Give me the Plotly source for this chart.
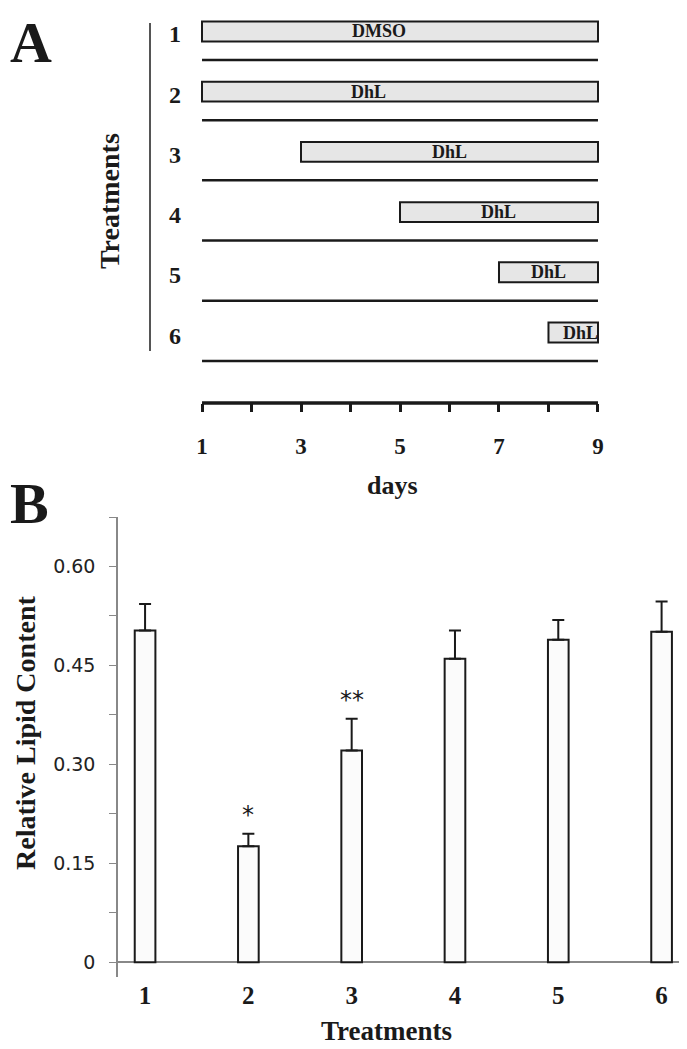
import plotly.graph_objects as go

# ---------------- data ----------------
# Panel A: treatment schedule
treat_rows = [1, 2, 3, 4, 5, 6]
treat_agent = ["DMSO", "DhL", "DhL", "DhL", "DhL", "DhL"]
start_day = [1, 1, 3, 5, 7, 8]
end_day = [9, 9, 9, 9, 9, 9]
label_day = [4.58, 4.36, 6.0, 7.0, 8.0, 8.64]
culture_start = 1
culture_end = 9
day_ticks = [1, 2, 3, 4, 5, 6, 7, 8, 9]
day_ticktext = ["1", "", "3", "", "5", "", "7", "", "9"]

# Panel B: relative lipid content
treatments = ["1", "2", "3", "4", "5", "6"]
lipid = [0.503, 0.176, 0.321, 0.460, 0.489, 0.501]
lipid_err = [0.040, 0.019, 0.048, 0.043, 0.030, 0.046]
signif = ["", "*", "**", "", "", ""]
y_ticks = [0, 0.075, 0.15, 0.225, 0.30, 0.375, 0.45, 0.525, 0.60, 0.675]
y_ticktext = ["0", "", "0.15", "", "0.30", "", "0.45", "", "0.60", ""]

# page is 687x1049 but the page body adds an 8px margin around the plot div
OFF = 8
W, H = 687 - OFF, 1049 - OFF
SERIF = "Liberation Serif"
SANS = "DejaVu Sans"


def px(x):
    return min(1.0, max(0.0, (x - OFF) / W))


def py(y):
    return min(1.0, max(0.0, 1 - (y - OFF) / H))


fig = go.Figure()

# ---- Panel A bars ----
fig.add_trace(go.Bar(
    y=treat_rows,
    x=[e - s for s, e in zip(start_day, end_day)],
    base=start_day,
    orientation="h",
    width=0.33,
    marker=dict(color="#e6e6e6", line=dict(color="#1a1a1a", width=2)),
    xaxis="x", yaxis="y", showlegend=False, hoverinfo="skip",
))

# timeline lines under each treatment
lx, ly = [], []
for r in treat_rows:
    lx += [culture_start, culture_end, None]
    ly += [r + 0.473, r + 0.473, None]
fig.add_trace(go.Scatter(
    x=lx, y=ly, mode="lines", line=dict(color="#1a1a1a", width=2.5),
    xaxis="x", yaxis="y", showlegend=False, hoverinfo="skip",
))

# ---- Panel B bars ----
fig.add_trace(go.Bar(
    x=treatments, y=lipid,
    width=0.2,
    marker=dict(color="#fbfbfb", line=dict(color="#1a1a1a", width=2)),
    error_y=dict(type="data", array=lipid_err, arrayminus=[0] * len(lipid_err),
                 symmetric=False, color="#1a1a1a", thickness=2, width=6),
    xaxis="x2", yaxis="y2", showlegend=False, hoverinfo="skip",
))

annotations = []
# bar labels (panel A)
for r, lab, d in zip(treat_rows, treat_agent, label_day):
    annotations.append(dict(x=d, y=r, xref="x", yref="y", text=lab, showarrow=False,
                            font=dict(family=SERIF, size=18, color="#1a1a1a", weight="bold"),
                            xanchor="center", yanchor="middle"))
# row labels
for r in treat_rows:
    annotations.append(dict(x=px(175), y=r, xref="paper", yref="y", text=str(r), showarrow=False,
                            font=dict(family=SERIF, size=24, color="#1a1a1a", weight="bold"),
                            xanchor="center", yanchor="middle", yshift=-3))
# significance marks (category index used as x on the category axis)
for i, (v, e, s) in enumerate(zip(lipid, lipid_err, signif)):
    if s:
        annotations.append(dict(x=i, y=v + e, xref="x2", yref="y2", text=s, showarrow=False,
                                font=dict(family=SANS, size=24, color="#1a1a1a"),
                                xanchor="center", yanchor="bottom", yshift=3))
# panel letters and titles
annotations += [
    dict(x=0, y=1, xref="paper", yref="paper", text="A", showarrow=False,
         font=dict(family=SERIF, size=58, color="#1a1a1a", weight="bold"), xanchor="left", yanchor="top"),
    dict(x=0, y=py(503), xref="paper", yref="paper", text="B", showarrow=False,
         font=dict(family=SERIF, size=58, color="#1a1a1a", weight="bold"), xanchor="left", yanchor="middle"),
    dict(x=px(110), y=py(201), xref="paper", yref="paper", text="Treatments", showarrow=False,
         textangle=-90, font=dict(family=SERIF, size=28, color="#1a1a1a", weight="bold"),
         xanchor="center", yanchor="middle"),
    dict(x=px(392), y=py(485), xref="paper", yref="paper", text="days", showarrow=False,
         font=dict(family=SERIF, size=26, color="#1a1a1a", weight="bold"), xanchor="center", yanchor="middle"),
    dict(x=px(25), y=py(733), xref="paper", yref="paper", text="Relative Lipid Content", showarrow=False,
         textangle=-90, font=dict(family=SERIF, size=28, color="#1a1a1a", weight="bold"),
         xanchor="center", yanchor="middle"),
    dict(x=px(386), y=py(1031), xref="paper", yref="paper", text="Treatments", showarrow=False,
         font=dict(family=SERIF, size=27, color="#1a1a1a", weight="bold"), xanchor="center", yanchor="middle"),
]

shapes = [
    # vertical bracket line in panel A
    dict(type="line", xref="paper", yref="paper", x0=px(150), x1=px(150), y0=py(23), y1=py(351),
         line=dict(color="#555555", width=2)),
    # days axis line
    dict(type="line", xref="x", yref="paper", x0=culture_start, x1=culture_end, y0=py(403), y1=py(403),
         line=dict(color="#1a1a1a", width=3.5)),
]

fig.update_layout(
    width=W, height=H,
    margin=dict(l=0, r=0, t=0, b=0),
    paper_bgcolor="white", plot_bgcolor="white",
    showlegend=False,
    annotations=annotations,
    shapes=shapes,
    xaxis=dict(domain=[px(194.6), px(605.4)], range=[0.85, 9.15], anchor="y",
               tickvals=day_ticks, ticktext=day_ticktext, ticks="outside", ticklen=8,
               tickwidth=3, tickcolor="#1a1a1a", showline=False, showgrid=False, zeroline=False,
               ticklabelstandoff=14,
               tickfont=dict(family=SERIF, size=23, color="#1a1a1a", weight="bold")),
    yaxis=dict(domain=[py(403), 1], range=[7.171, 0.610], anchor="x",
               visible=False, showgrid=False, zeroline=False),
    xaxis2=dict(domain=[px(118), 1], range=[-0.262, 5.246], anchor="y2", type="category",
                showline=False, ticks="", showgrid=False, zeroline=False,
                ticklabelstandoff=1,
                tickfont=dict(family=SERIF, size=25, color="#1a1a1a", weight="bold")),
    yaxis2=dict(domain=[py(977), py(517)], range=[-0.0223, 0.675], anchor="x2",
                tickvals=y_ticks, ticktext=y_ticktext, ticks="outside", ticklen=7,
                tickcolor="#888888", tickwidth=1.2, showline=True, linecolor="#888888", linewidth=1.5,
                showgrid=False, zeroline=True, zerolinecolor="#888888", zerolinewidth=1.5,
                ticklabelstandoff=10,
                tickfont=dict(family=SANS, size=19, color="#222222")),
)

fig.write_html("out.html")
